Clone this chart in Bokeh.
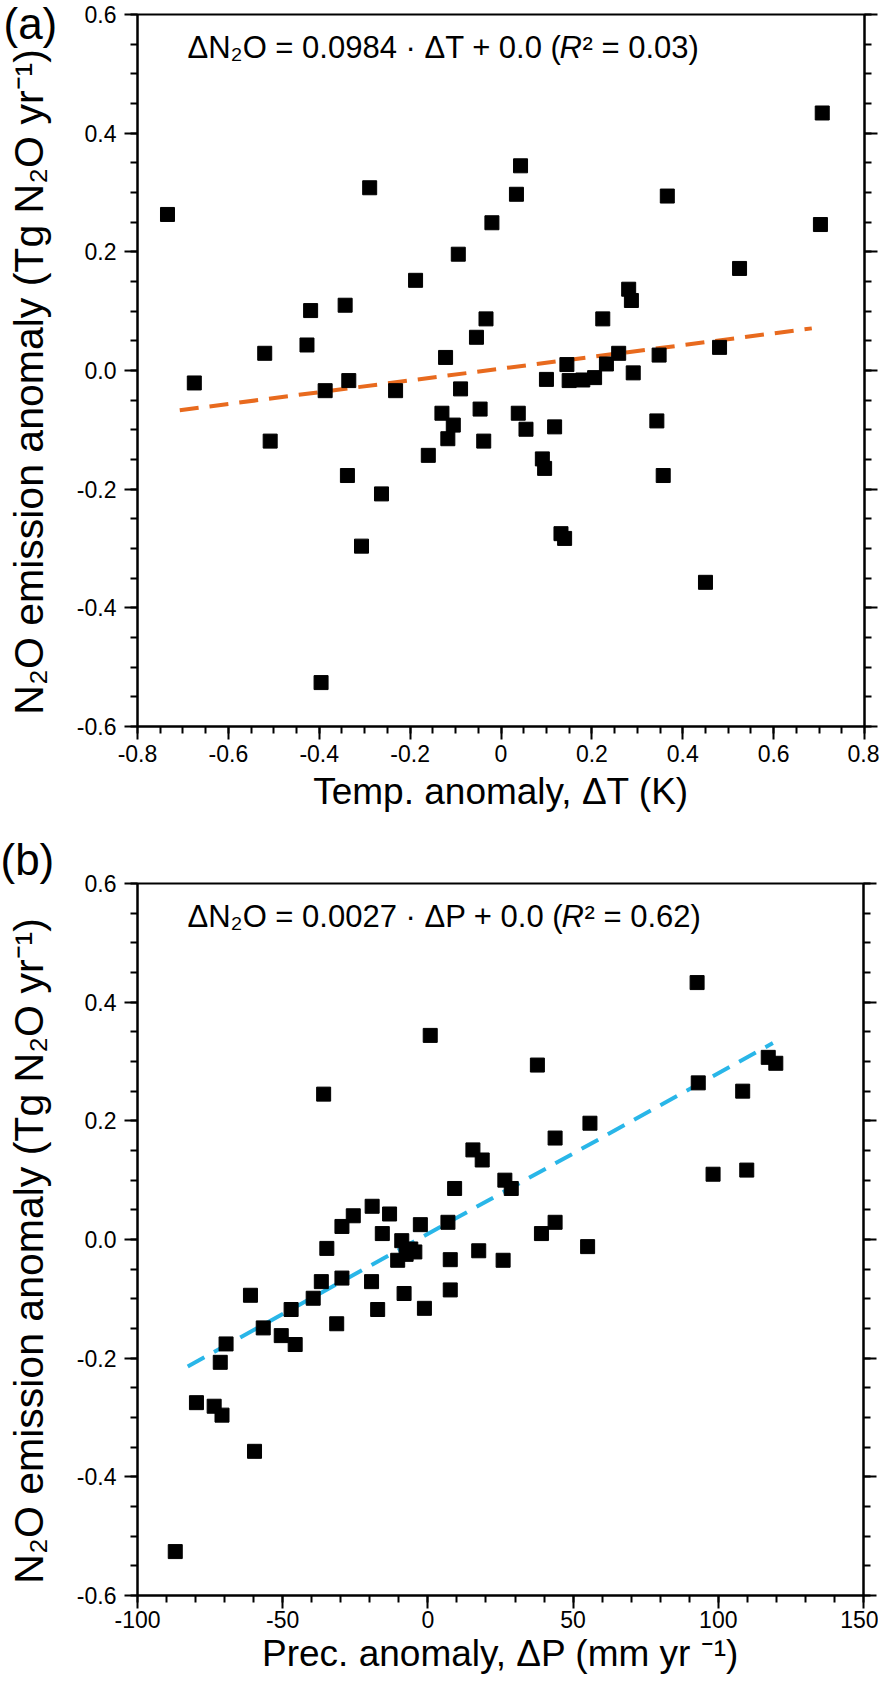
from bokeh.plotting import figure
from bokeh.models import (Range1d, FixedTicker, LinearAxis, Label, CustomLabelingPolicy)
from bokeh.layouts import column
from bokeh.embed import file_html
from bokeh.resources import INLINE

# ---------------- data ----------------
# (a) temperature anomaly (K) vs N2O emission anomaly (Tg N2O yr-1)
temp_anom = [-0.734, -0.675, -0.520, -0.427, -0.419, -0.343, -0.335, -0.387, -0.289, -0.232,
             -0.188, -0.122, -0.094, -0.089, -0.054, -0.033, -0.020, 0.034, 0.043, 0.145,
             0.100, 0.150, 0.180, 0.206, 0.224, 0.232, 0.259, 0.281, 0.287, 0.291,
             0.348, 0.366, 0.481, 0.525, 0.703, 0.707, -0.130, -0.046, 0.038, 0.343,
             -0.105, 0.055, 0.118, -0.508, -0.117, -0.038, -0.160, 0.091, 0.096, -0.338,
             0.357, -0.263, 0.132, 0.140, -0.307, 0.450, -0.396]
n2o_anom_a = [0.263, -0.021, 0.029, 0.043, 0.101, 0.110, -0.017, -0.034, 0.308, -0.034,
              0.152, 0.022, 0.196, -0.031, 0.056, 0.087, 0.249, 0.297, 0.345, 0.010,
              -0.015, -0.017, -0.016, -0.012, 0.087, 0.011, 0.029, 0.137, 0.118, -0.004,
              0.026, 0.294, 0.039, 0.172, 0.246, 0.434, -0.072, -0.065, -0.072, -0.085,
              -0.092, -0.099, -0.095, -0.119, -0.115, -0.119, -0.143, -0.149, -0.165, -0.177,
              -0.177, -0.208, -0.275, -0.283, -0.296, -0.357, -0.526]

# (b) precipitation anomaly (mm yr-1) vs N2O emission anomaly
prec_anom = [92.7, 0.8, 37.7, -35.9, 93.1, 117.2, 119.8, 108.4, 55.8, 43.8,
             15.5, 18.7, 98.2, 109.8, 26.5, 28.7, 9.2, -19.2, -25.7, -13.2,
             -29.6, -2.6, 6.9, 43.8, -15.7, 39.1, -34.8, -9.0, -5.9, 55.0,
             -10.4, 7.7, 17.5, 25.9, -36.7, -29.6, -19.4, -61.1, -39.5, -8.2,
             7.7, -47.1, -17.3, -1.2, -31.4, -56.7, -50.5, -45.7, -69.5, -71.5,
             -79.7, -73.6, -70.9, -59.7, -87.0, -7.5, -4.5]
n2o_anom_b = [0.433, 0.344, 0.294, 0.245, 0.264, 0.307, 0.297, 0.250, 0.196, 0.171,
              0.151, 0.134, 0.110, 0.117, 0.100, 0.086, 0.086, 0.056, 0.040, 0.043,
              0.022, 0.025, 0.029, 0.029, 0.010, 0.010, -0.015, -0.002, -0.016, -0.012,
              -0.035, -0.034, -0.019, -0.035, -0.071, -0.065, -0.071, -0.094, -0.099, -0.091,
              -0.085, -0.118, -0.118, -0.116, -0.142, -0.149, -0.162, -0.177, -0.176, -0.207,
              -0.275, -0.281, -0.296, -0.357, -0.526, -0.025, -0.021]

# regression lines (end points)
fit_a_x = [-0.707, 0.684]
fit_a_y = [-0.067, 0.071]
fit_b_x = [-82.7, 118.8]
fit_b_y = [-0.214, 0.331]

# ticks
x_ticks_a = [-0.8, -0.6, -0.4, -0.2, 0.0, 0.2, 0.4, 0.6, 0.8]
x_tick_labels_a = ["-0.8", "-0.6", "-0.4", "-0.2", "0", "0.2", "0.4", "0.6", "0.8"]
x_minor_a = [round(-0.8 + 0.05 * i, 2) for i in range(33)]
x_ticks_b = [-100, -50, 0, 50, 100, 150]
x_tick_labels_b = ["-100", "-50", "0", "50", "100", "150"]
x_minor_b = list(range(-100, 151, 10))
y_ticks = [-0.6, -0.4, -0.2, 0.0, 0.2, 0.4, 0.6]
y_tick_labels = ["-0.6", "-0.4", "-0.2", "0.0", "0.2", "0.4", "0.6"]
y_minor = [round(-0.6 + 0.05 * i, 2) for i in range(25)]

FONT = "Liberation Sans"
# two trailing no-break spaces nudge the centred title slightly downward, as in the original
Y_TITLE = "N\u2082O emission anomaly (Tg N\u2082O yr\u207b\u00b9)\u00a0\u00a0"


def style_axis(ax, show_labels=True):
    ax.axis_line_width = 2
    ax.axis_line_color = "black"
    ax.major_tick_line_width = 2
    ax.minor_tick_line_width = 2
    ax.major_tick_line_color = "black"
    ax.minor_tick_line_color = "black"
    ax.major_tick_in = 0
    ax.major_tick_out = 13
    ax.minor_tick_in = 0
    ax.minor_tick_out = 7
    ax.major_label_text_font = FONT
    ax.major_label_text_color = "black"
    ax.axis_label_text_font = FONT
    ax.axis_label_text_font_style = "normal"
    ax.axis_label_text_color = "black"
    ax.axis_label_text_font_size = "37px"
    if show_labels:
        ax.major_label_text_font_size = "23px"
    else:
        ax.major_label_text_font_size = "0px"
        ax.major_label_standoff = 0
        ax.major_label_policy = CustomLabelingPolicy(code="return []")


def make_panel(xr, xt, xtl, xminor, xs, ys, fx, fy, color, xlabel,
               eq_parts, fw, border_left, border_top, border_bottom, border_right,
               label_standoff_x, title_standoff_x, letter, letter_standoff):
    fh = 712
    p = figure(frame_width=fw, frame_height=fh, title=letter,
               x_range=Range1d(*xr), y_range=Range1d(-0.6, 0.6),
               output_backend="svg", toolbar_location=None,
               min_border_left=border_left, min_border_top=border_top,
               min_border_bottom=border_bottom, min_border_right=border_right)
    p.xgrid.visible = False
    p.ygrid.visible = False
    p.outline_line_color = "black"
    p.outline_line_width = 2
    p.background_fill_color = "white"
    p.border_fill_color = "white"

    # panel letter as the plot title, pushed to the far left
    p.title.align = "left"
    p.title.offset = -border_left
    p.title.standoff = letter_standoff
    p.title.text_font = FONT
    p.title.text_font_size = "44px"
    p.title.text_font_style = "normal"
    p.title.text_color = "black"

    xax = p.xaxis[0]
    xax.ticker = FixedTicker(ticks=xt, minor_ticks=xminor)
    xax.major_label_overrides = {t: l for t, l in zip(xt, xtl)}
    style_axis(xax)
    xax.major_label_standoff = label_standoff_x
    xax.axis_label = xlabel
    xax.axis_label_standoff = title_standoff_x

    yax = p.yaxis[0]
    yax.ticker = FixedTicker(ticks=y_ticks, minor_ticks=y_minor)
    yax.major_label_overrides = {t: l for t, l in zip(y_ticks, y_tick_labels)}
    style_axis(yax)
    yax.major_label_standoff = 8
    yax.axis_label = Y_TITLE
    yax.axis_label_text_font_size = "41px"
    yax.axis_label_standoff = 22

    rax = LinearAxis(ticker=FixedTicker(ticks=y_ticks, minor_ticks=y_minor))
    style_axis(rax, show_labels=False)
    p.add_layout(rax, "right")

    p.line(fx, fy, line_color=color, line_width=4, line_dash="19 11")
    p.scatter(xs, ys, marker="square", size=14, fill_color="black",
              line_color="black", line_width=1)

    # equation (R in italics)
    eq_y = fh - 33
    x0 = 50
    w1 = eq_parts[3]
    for txt, xx, style in ((eq_parts[0], x0, "normal"),
                           (eq_parts[1], x0 + w1, "italic"),
                           (eq_parts[2], x0 + w1 + 23, "normal")):
        p.add_layout(Label(x=xx, y=eq_y, x_units="screen", y_units="screen",
                           text=txt, text_font=FONT, text_font_size="31px",
                           text_font_style=style,
                           text_baseline="middle", text_align="left", text_color="black"))
    return p


pa = make_panel((-0.8, 0.8), x_ticks_a, x_tick_labels_a, x_minor_a,
                temp_anom, n2o_anom_a, fit_a_x, fit_a_y, "#E86A1E",
                "Temp. anomaly, \u0394T (K)",
                ("\u0394N\u2082O = 0.0984 \u00b7 \u0394T + 0.0 (", "R",
                 "\u00b2 = 0.03)", 372),
                727, 134, 14, 100, 17, 5, 6, "(a)", -66)

pb = make_panel((-100, 150), x_ticks_b, x_tick_labels_b, x_minor_b,
                prec_anom, n2o_anom_b, fit_b_x, fit_b_y, "#29B6E8",
                "Prec. anomaly, \u0394P (mm yr \u207b\u00b9)",
                ("\u0394N\u2082O = 0.0027 \u00b7 \u0394P + 0.0 (", "R",
                 "\u00b2 = 0.62)", 374),
                726, 137, 57, 85, 15, 2, 2, "(b)", 0)

layout = column(pa, pb)
open("out.html", "w").write(file_html(layout, INLINE))
